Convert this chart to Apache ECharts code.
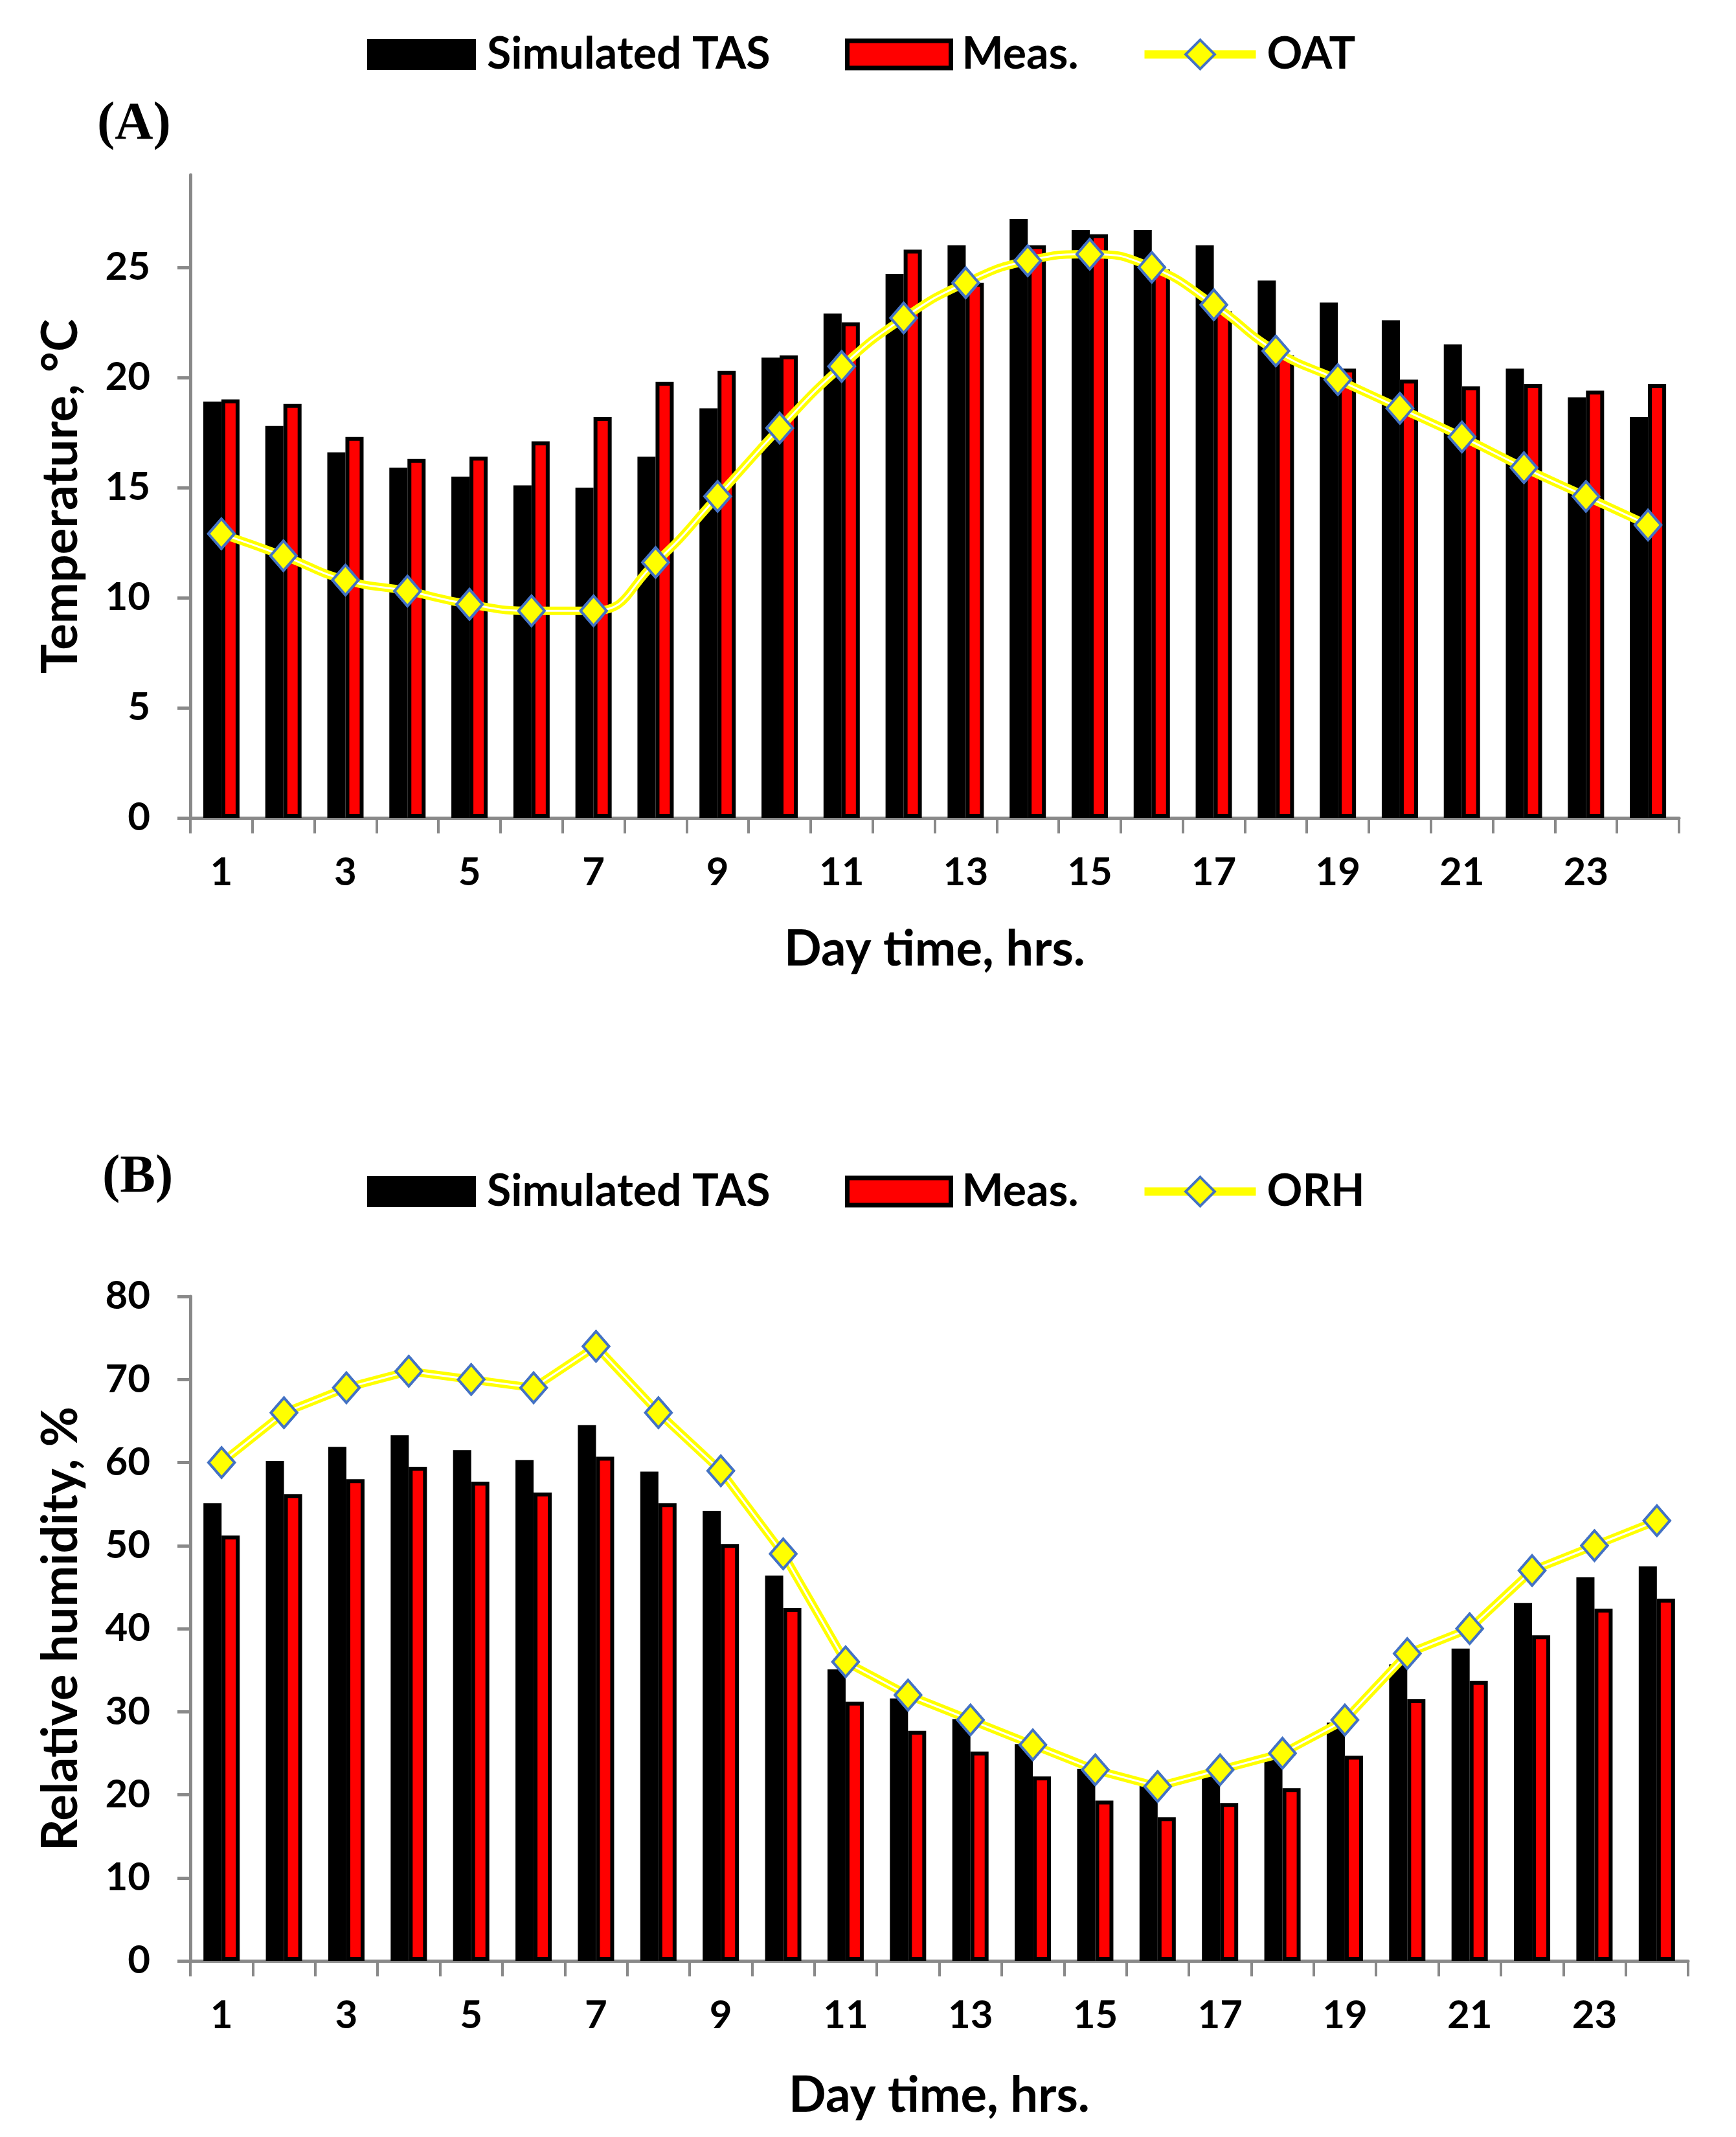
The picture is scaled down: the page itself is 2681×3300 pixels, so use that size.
<!DOCTYPE html>
<html><head><meta charset="utf-8">
<script src="https://cdn.jsdelivr.net/npm/echarts@6/dist/echarts.min.js"></script>
<style>html,body{margin:0;padding:0;background:#fff}#c{width:2681px;height:3300px}</style>
</head><body><div id="c"></div>
<script>
const hours = ['1','2','3','4','5','6','7','8','9','10','11','12','13','14','15','16','17','18','19','20','21','22','23','24'];
const tasTemp = [18.9, 17.8, 16.6, 15.9, 15.5, 15.1, 15.0, 16.4, 18.6, 20.9, 22.9, 24.7, 26.0, 27.2, 26.7, 26.7, 26.0, 24.4, 23.4, 22.6, 21.5, 20.4, 19.1, 18.2];
const measTemp = [19.0, 18.8, 17.3, 16.3, 16.4, 17.1, 18.2, 19.8, 20.3, 21.0, 22.5, 25.8, 24.3, 26.0, 26.5, 24.9, 23.0, 21.0, 20.4, 19.9, 19.6, 19.7, 19.4, 19.7];
const oat = [12.9, 11.9, 10.8, 10.3, 9.7, 9.4, 9.4, 11.6, 14.6, 17.7, 20.5, 22.7, 24.3, 25.3, 25.6, 25.0, 23.3, 21.2, 19.9, 18.6, 17.3, 15.9, 14.6, 13.3];
const tasRH = [55.1, 60.2, 61.9, 63.3, 61.5, 60.3, 64.5, 58.9, 54.2, 46.4, 35.1, 31.6, 29.1, 26.1, 23.1, 21.1, 22.3, 24.6, 28.7, 35.7, 37.6, 43.1, 46.2, 47.5];
const measRH = [51.2, 56.2, 58.0, 59.5, 57.7, 56.4, 60.7, 55.1, 50.2, 42.5, 31.2, 27.7, 25.2, 22.2, 19.3, 17.3, 19.0, 20.8, 24.7, 31.5, 33.7, 39.2, 42.4, 43.6];
const orh = [60, 66, 69, 71, 70, 69, 74, 66, 59, 49, 36, 32, 29, 26, 23, 21, 23, 25, 29, 37, 40, 47, 50, 53];
const tempTicks = [0, 5, 10, 15, 20, 25];
const rhTicks = [0, 10, 20, 30, 40, 50, 60, 70, 80];

const FONT = 'Lato';
const AXC = '#898989';
const YEL = '#ffff00';
const BLUE = '#4472c4';

function xAx(gi, gap) {
  return {
    type: 'category', gridIndex: gi, data: hours, boundaryGap: true,
    axisLine: { lineStyle: { color: AXC, width: 5 } },
    axisTick: { show: true, interval: 0, length: 24, lineStyle: { color: AXC, width: 4 } },
    axisLabel: { interval: 1, margin: 55, fontSize: 60, fontWeight: 'bold', fontFamily: FONT, color: '#000' },
    name: 'Day time, hrs.', nameLocation: 'middle', nameGap: gap,
    nameTextStyle: { fontSize: 76, fontWeight: 'bold', fontFamily: FONT, color: '#000' },
    splitLine: { show: false }
  };
}
function yAx(gi, max, interval, ticks, name) {
  return {
    type: 'value', gridIndex: gi, min: 0, max: max, interval: interval,
    axisLine: { show: true, lineStyle: { color: AXC, width: 5 } },
    axisTick: { show: true, length: 20, customValues: ticks, lineStyle: { color: AXC, width: 5 } },
    axisLabel: { customValues: ticks, margin: 62, fontSize: 60, fontWeight: 'bold', fontFamily: FONT, color: '#000' },
    splitLine: { show: false },
    name: name, nameLocation: 'middle', nameGap: 162,
    nameTextStyle: { fontSize: 76, fontWeight: 'bold', fontFamily: FONT, color: '#000' }
  };
}
function bars(gi, sim, meas) {
  return [
    { type: 'bar', name: 'Simulated TAS', xAxisIndex: gi, yAxisIndex: gi, data: sim, barWidth: 28,
      itemStyle: { color: '#000', borderColor: '#000', borderWidth: 6 } },
    { type: 'bar', name: 'Meas.', xAxisIndex: gi, yAxisIndex: gi, data: meas, barWidth: 28, barGap: '0%',
      itemStyle: { color: '#ff0000', borderColor: '#000', borderWidth: 6 } }
  ];
}
function lineSet(gi, name, data, smooth) {
  return [
    { type: 'line', name: name, xAxisIndex: gi, yAxisIndex: gi, data: data, smooth: smooth, z: 3,
      lineStyle: { color: YEL, width: 13 }, symbol: 'diamond', symbolSize: [40, 46],
      itemStyle: { color: YEL, borderColor: BLUE, borderWidth: 4 } },
    { type: 'line', name: name + '_c', xAxisIndex: gi, yAxisIndex: gi, data: data, smooth: smooth, z: 4,
      silent: true, showSymbol: false, symbol: 'none', lineStyle: { color: '#ffffff', width: 3 } },
    { type: 'scatter', name: name + '_m', xAxisIndex: gi, yAxisIndex: gi, data: data, z: 5, silent: true,
      symbol: 'diamond', symbolSize: [40, 46],
      itemStyle: { color: YEL, borderColor: BLUE, borderWidth: 4, opacity: 1 } }
  ];
}
const legTxt = { fontSize: 68, fontWeight: 'bold', fontFamily: FONT, color: '#000', padding: [0, 0, 0, 12] };
function legends(top, lineName) {
  return [
    { data: ['Simulated TAS'], left: 567, top: top, itemWidth: 168, itemHeight: 48, icon: 'rect', selectedMode: false,
      padding: 0, textStyle: legTxt, itemStyle: { color: '#000', borderWidth: 0 } },
    { data: ['Meas.'], left: 1305, top: top, itemWidth: 160, itemHeight: 42, icon: 'rect', selectedMode: false,
      padding: 0, textStyle: legTxt, itemStyle: { color: '#ff0000', borderColor: '#000', borderWidth: 7 } },
    { data: [lineName], left: 1761, top: top, itemWidth: 172, itemHeight: 56, selectedMode: false,
      padding: 0, textStyle: legTxt, lineStyle: { color: YEL, width: 13 },
      itemStyle: { color: YEL, borderColor: BLUE, borderWidth: 4 } }
  ];
}

const chart = echarts.init(document.getElementById('c'), null, { renderer: 'canvas' });
chart.setOption({
  animation: false,
  backgroundColor: '#fff',
  grid: [
    { left: 294, top: 270, width: 2299, height: 993 },
    { left: 294, top: 2002, width: 2313, height: 1026 }
  ],
  xAxis: [xAx(0, 165), xAx(1, 170)],
  yAxis: [yAx(0, 29.2, 5, tempTicks, 'Temperature, °C'), yAx(1, 80, 10, rhTicks, 'Relative humidity, %')],
  legend: legends(50, 'OAT').concat(legends(1806, 'ORH')),
  graphic: [
    { type: 'text', left: 150, top: 152, style: { text: '(A)', font: 'bold 82px "Liberation Serif"', fill: '#000' } },
    { type: 'text', left: 158, top: 1778, style: { text: '(B)', font: 'bold 82px "Liberation Serif"', fill: '#000' } }
  ],
  series: [].concat(
    bars(0, tasTemp, measTemp), lineSet(0, 'OAT', oat, true),
    bars(1, tasRH, measRH), lineSet(1, 'ORH', orh, false)
  )
});
</script></body></html>
